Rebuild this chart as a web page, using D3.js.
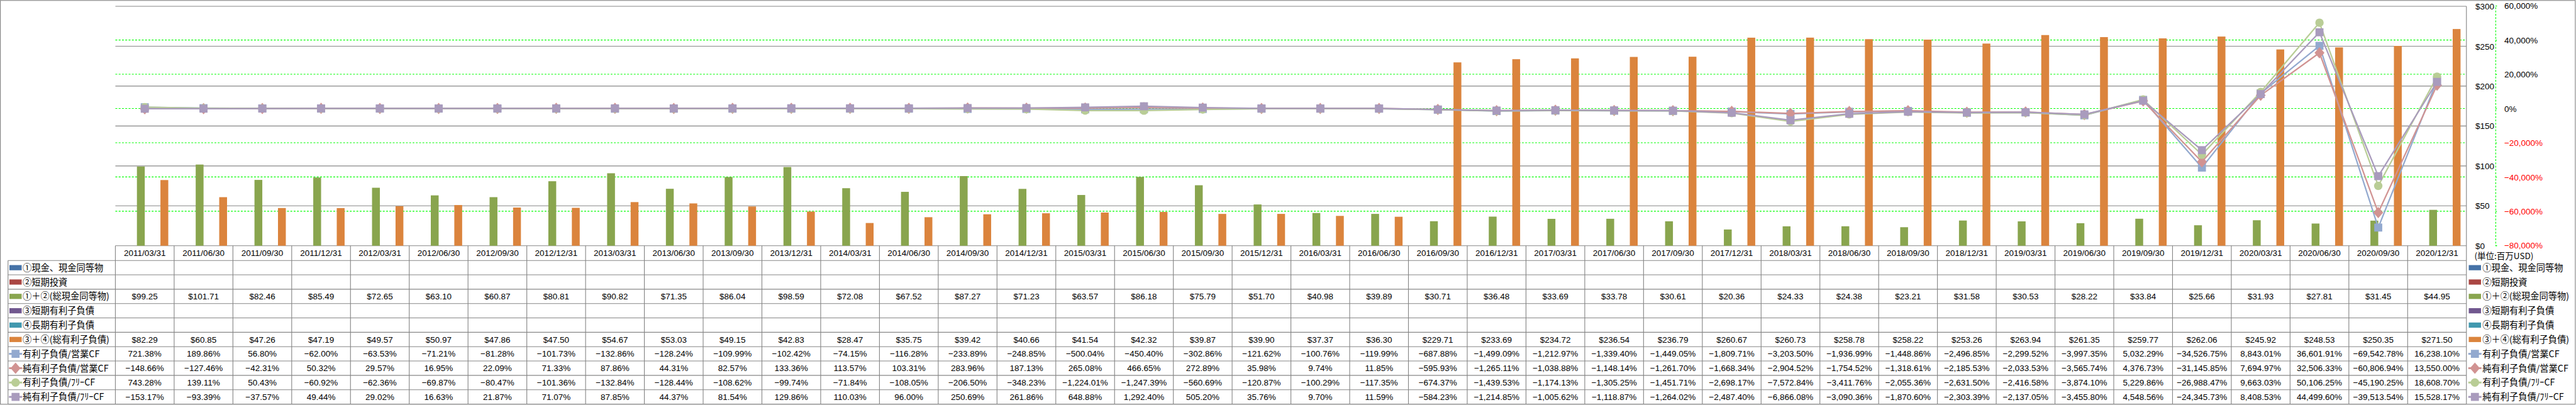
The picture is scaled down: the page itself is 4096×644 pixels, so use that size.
<!DOCTYPE html>
<html><head><meta charset="utf-8">
<script src="https://cdn.jsdelivr.net/npm/d3@7"></script>
<style>html,body{margin:0;padding:0;background:#fff;overflow:hidden}</style>
</head><body><svg id="c" width="4096" height="644"></svg>
<script>
const categories = ["2011/03/31","2011/06/30","2011/09/30","2011/12/31","2012/03/31","2012/06/30","2012/09/30","2012/12/31",
"2013/03/31","2013/06/30","2013/09/30","2013/12/31","2014/03/31","2014/06/30","2014/09/30","2014/12/31",
"2015/03/31","2015/06/30","2015/09/30","2015/12/31","2016/03/31","2016/06/30","2016/09/30","2016/12/31",
"2017/03/31","2017/06/30","2017/09/30","2017/12/31","2018/03/31","2018/06/30","2018/09/30","2018/12/31",
"2019/03/31","2019/06/30","2019/09/30","2019/12/31","2020/03/31","2020/06/30","2020/09/30","2020/12/31"];
const cashTotal = [99.25,101.71,82.46,85.49,72.65,63.10,60.87,80.81,90.82,71.35,86.04,98.59,72.08,67.52,87.27,71.23,
63.57,86.18,75.79,51.70,40.98,39.89,30.71,36.48,33.69,33.78,30.61,20.36,24.33,24.38,23.21,31.58,30.53,28.22,33.84,25.66,31.93,27.81,31.45,44.95];
const debtTotal = [82.29,60.85,47.26,47.19,49.57,50.97,47.86,47.50,54.67,53.03,49.15,42.83,28.47,35.75,39.42,40.66,
41.54,42.32,39.87,39.90,37.37,36.30,229.71,233.69,234.72,236.54,236.79,260.67,260.73,258.78,258.22,253.26,263.94,261.35,259.77,262.06,245.92,248.53,250.35,271.50];
const debtOcf = [721.38,189.86,56.80,-62.00,-63.53,-71.21,-81.28,-101.73,-132.86,-128.24,-109.99,-102.42,-74.15,-116.28,-233.89,-248.85,
-500.04,-450.40,-302.86,-121.62,-100.76,-119.99,-687.88,-1499.09,-1212.97,-1339.40,-1449.05,-1809.71,-3203.50,-1936.99,-1448.86,-2496.85,
-2299.52,-3997.35,5032.29,-34526.75,8843.01,36601.91,-69542.78,16238.10];
const netDebtOcf = [-148.66,-127.46,-42.31,50.32,29.57,16.95,22.09,71.33,87.86,44.31,82.57,133.36,113.57,103.31,283.96,187.13,
265.08,466.65,272.89,35.98,9.74,11.85,-595.93,-1265.11,-1038.88,-1148.14,-1261.70,-1668.34,-2904.52,-1754.52,-1318.61,-2185.53,
-2033.53,-3565.74,4376.73,-31145.85,7694.97,32506.33,-60806.94,13550.00];
const debtFcf = [743.28,139.11,50.43,-60.92,-62.36,-69.87,-80.47,-101.36,-132.84,-128.44,-108.62,-99.74,-71.84,-108.05,-206.50,-348.23,
-1224.01,-1247.39,-560.69,-120.87,-100.29,-117.35,-674.37,-1439.53,-1174.13,-1305.25,-1451.71,-2698.17,-7572.84,-3411.76,-2055.36,-2631.50,
-2416.58,-3874.10,5229.86,-26988.47,9663.03,50106.25,-45190.25,18608.70];
const netDebtFcf = [-153.17,-93.39,-37.57,49.44,29.02,16.63,21.87,71.07,87.85,44.37,81.54,129.86,110.03,96.00,250.69,261.86,
648.88,1292.40,505.20,35.76,9.70,11.59,-584.23,-1214.85,-1005.62,-1118.87,-1264.02,-2487.40,-6866.08,-3090.36,-1870.60,-2303.39,
-2137.05,-3455.80,4548.56,-24345.73,8408.53,44499.60,-39513.54,15528.17];
const empty = categories.map(() => null);
const dollarTicks = [0,50,100,150,200,250,300];
const pctTicks = [-80000,-60000,-40000,-20000,0,20000,40000,60000];
const seriesNames = ["①現金、現金同等物","②短期投資","①＋②(総現金同等物)","③短期有利子負債","④長期有利子負債","③＋④(総有利子負債)",
"有利子負債/営業CF","純有利子負債/営業CF","有利子負債/ﾌﾘｰCF","純有利子負債/ﾌﾘｰCF"];
const unitLabel = "(単位:百万USD)";

// ---- build series table from the named arrays ----
const barColors = ["#4572A7","#AA4643","#89A54E","#71588F","#4198AF","#DB843D"];
const lineColors = ["#93A9CF","#D19392","#B9CD96","#A99BBD"];
const markerTypes = ["square","diamond","circle","square"];
const barData = [empty, empty, cashTotal, empty, empty, debtTotal];
const lineData = [debtOcf, netDebtOcf, debtFcf, netDebtFcf];
const series = seriesNames.map((name,i) => i < 6
  ? {name, kind:"bar", values:barData[i], color:barColors[i], idx:i}
  : {name, kind:"line", values:lineData[i-6], color:lineColors[i-6], marker:markerTypes[i-6], idx:i});

const S = 0.75;
const svg = d3.select("#c");
const g = svg.append("g").attr("transform", `scale(${S})`);
const FONT = "'Liberation Sans', Arial, sans-serif";
const JFONT = "'Noto Sans CJK JP', 'Liberation Sans', sans-serif";
const GRAY = "#868686";

const X0 = 244.6, X1 = 5229, YT = 13.3, YB = 521;
const x = d3.scaleBand().domain(categories).range([X0, X1]).padding(0);
const inner = d3.scaleBand().domain(d3.range(6)).range([0, x.bandwidth()]).paddingInner(0).paddingOuter(0.75);
const y = d3.scaleLinear().domain([0, 300]).range([YB, YT]);
const y2 = d3.scaleLinear().domain([-80000, 60000]).range([520.4, 12.2]);

// outer border
g.append("rect").attr("x",0.8).attr("y",1).attr("width",5459).attr("height",856)
  .attr("fill","none").attr("stroke",GRAY).attr("stroke-width",1.5);

// secondary (green dashed) gridlines
g.append("g").selectAll("line").data(pctTicks.filter(t => t > -80000 && t < 60000)).join("line")
  .attr("x1",X0).attr("x2",X1).attr("y1",d=>y2(d)).attr("y2",d=>y2(d))
  .attr("stroke","#00FF00").attr("stroke-width",1.5).attr("stroke-dasharray","4,3");

// primary gridlines
g.append("g").selectAll("line").data(dollarTicks).join("line")
  .attr("x1",X0).attr("x2",X1).attr("y1",d=>y(d)).attr("y2",d=>y(d))
  .attr("stroke",GRAY).attr("stroke-width",1.5);
// right plot border
g.append("line").attr("x1",X1).attr("x2",X1).attr("y1",YT).attr("y2",857)
  .attr("stroke",GRAY).attr("stroke-width",1.5);

// bars
series.filter(s => s.kind==="bar").forEach(s => {
  g.append("g").selectAll("rect").data(s.values.map((v,i)=>({v,c:categories[i]})).filter(d=>d.v!=null)).join("rect")
    .attr("x", d => x(d.c) + inner(s.idx))
    .attr("width", inner.bandwidth())
    .attr("y", d => y(d.v))
    .attr("height", d => y(0) - y(d.v))
    .attr("fill", s.color);
});

// markers
function markerPath(type) {
  if (type === "diamond") return "M0,-12L10.5,0L0,12L-10.5,0Z";
  if (type === "circle") return d3.symbol().type(d3.symbolCircle).size(250)();
  return "M-8.5,-8.5H8.5V8.5H-8.5Z";
}
const line = d3.line().x((d,i) => x(categories[i]) + x.bandwidth()/2).y(d => y2(d));
series.filter(s => s.kind==="line").forEach(s => {
  const lg = g.append("g");
  lg.append("path").datum(s.values).attr("d", line).attr("fill","none")
    .attr("stroke", s.color).attr("stroke-width", 3).attr("stroke-linejoin","round");
  lg.selectAll("path.m").data(s.values).join("path").attr("class","m")
    .attr("transform",(d,i)=>`translate(${x(categories[i]) + x.bandwidth()/2},${y2(d)})`)
    .attr("d", markerPath(s.marker)).attr("fill", s.color);
});

// axes (right side)
const axD = g.append("g").attr("transform",`translate(5248,0)`)
  .call(d3.axisRight(y).tickValues(dollarTicks).tickFormat(d=>"$"+d).tickSize(0).tickPadding(0));
axD.select(".domain").remove();
axD.selectAll("text").attr("font-family",FONT).attr("font-size",18).attr("fill","#000").attr("dy","0.35em");

const axP = g.append("g").attr("transform",`translate(5290.7,0)`)
  .call(d3.axisRight(y2).tickValues(pctTicks).tickFormat(d=>d3.format(",")(d)+"%").tickSize(3).tickPadding(15.5));
axP.select(".domain").attr("stroke","#00FF00").attr("stroke-width",1.5).attr("stroke-dasharray","4,3");
axP.selectAll(".tick line").attr("stroke","#00FF00").attr("stroke-width",1.5);
axP.selectAll("text").attr("font-family",FONT).attr("font-size",18).attr("dy","0.35em")
  .attr("fill",d => d < 0 ? "#FF0000" : "#000");

// data table
const TT = 552.3, RH = 30.44, LX = 17;
const tg = g.append("g");
// header labels
tg.selectAll("text.cat").data(categories).join("text").attr("class","cat")
  .attr("x", d => x(d) + x.bandwidth()/2).attr("y", (YB+TT)/2).attr("dy","0.35em")
  .attr("text-anchor","middle").attr("font-family",FONT).attr("font-size",18).text(d=>d);
// horizontal lines
tg.selectAll("line.h").data(d3.range(11)).join("line").attr("class","h")
  .attr("x1",LX).attr("x2",X1).attr("y1",i=>TT+i*RH).attr("y2",i=>TT+i*RH)
  .attr("stroke",GRAY).attr("stroke-width",1.5);
// vertical lines
tg.selectAll("line.v").data(categories).join("line").attr("class","v")
  .attr("x1",d=>x(d)).attr("x2",d=>x(d)).attr("y1",YB).attr("y2",TT+10*RH)
  .attr("stroke",GRAY).attr("stroke-width",1.5);
tg.append("line").attr("x1",LX).attr("x2",LX).attr("y1",TT).attr("y2",TT+10*RH)
  .attr("stroke",GRAY).attr("stroke-width",1.5);

const fmtD = v => "$" + d3.format(".2f")(v);
const fmtP = v => d3.format(",.2f")(v) + "%";

function legendKey(sel, s, cx, cy) {
  if (s.kind === "bar") {
    sel.append("rect").attr("x",cx-13).attr("y",cy-5.5).attr("width",26).attr("height",11).attr("fill",s.color);
  } else {
    sel.append("line").attr("x1",cx-14).attr("x2",cx+14).attr("y1",cy).attr("y2",cy)
      .attr("stroke",s.color).attr("stroke-width",4);
    sel.append("path").attr("transform",`translate(${cx},${cy})`).attr("d",markerPath(s.marker)).attr("fill",s.color);
  }
}

series.forEach((s, r) => {
  const cy = TT + r*RH + RH/2;
  legendKey(tg, s, 33, cy);
  tg.append("text").attr("x",48).attr("y",cy).attr("dy","0.36em").attr("font-family",JFONT)
    .attr("font-size",19).text(s.name);
  tg.append("g").selectAll("text").data(s.values.map((v,i)=>({v,c:categories[i]})).filter(d=>d.v!=null)).join("text")
    .attr("x", d => x(d.c) + x.bandwidth()/2).attr("y", cy).attr("dy","0.35em")
    .attr("text-anchor","middle").attr("font-family",FONT).attr("font-size",18)
    .text(d => s.kind==="bar" ? fmtD(d.v) : fmtP(d.v));
  // right legend
  legendKey(g, s, 5247, cy);
  g.append("text").attr("x",5263).attr("y",cy).attr("dy","0.36em").attr("font-family",JFONT)
    .attr("font-size",19).text(s.name);
});
g.append("text").attr("x",5246).attr("y",543).attr("dy","0.36em").attr("font-family",JFONT)
  .attr("font-size",18).text(unitLabel);
</script></body></html>
